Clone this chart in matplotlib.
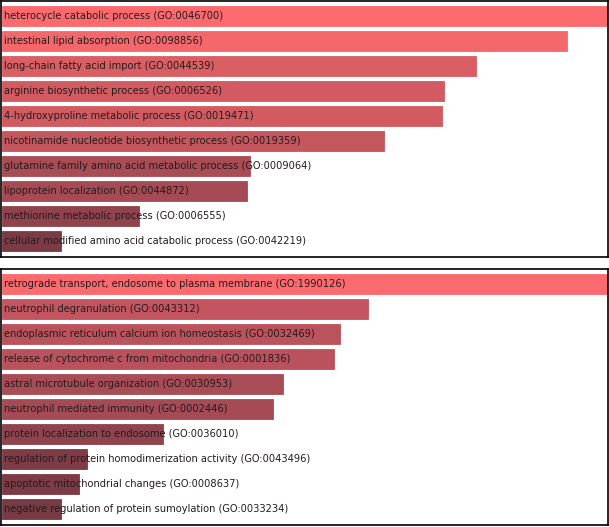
import numpy as np
import matplotlib.pyplot as plt

# top panel
terms_top = ['heterocycle catabolic process (GO:0046700)',
             'intestinal lipid absorption (GO:0098856)',
             'long-chain fatty acid import (GO:0044539)',
             'arginine biosynthetic process (GO:0006526)',
             '4-hydroxyproline metabolic process (GO:0019471)',
             'nicotinamide nucleotide biosynthetic process (GO:0019359)',
             'glutamine family amino acid metabolic process (GO:0009064)',
             'lipoprotein localization (GO:0044872)',
             'methionine metabolic process (GO:0006555)',
             'cellular modified amino acid catabolic process (GO:0042219)']
scores_top = [10.12, 9.43, 7.91, 7.38, 7.34, 6.37, 4.14, 4.09, 2.29, 0.98]
colors_top = ['#FB6A6E', '#F4686C', '#DA5F64', '#D25B61', '#D25B61',
              '#C4565D', '#A84C55', '#A64B55', '#8E434D', '#7A3B46']

# bottom panel
terms_bot = ['retrograde transport, endosome to plasma membrane (GO:1990126)',
             'neutrophil degranulation (GO:0043312)',
             'endoplasmic reticulum calcium ion homeostasis (GO:0032469)',
             'release of cytochrome c from mitochondria (GO:0001836)',
             'astral microtubule organization (GO:0030953)',
             'neutrophil mediated immunity (GO:0002446)',
             'protein localization to endosome (GO:0036010)',
             'regulation of protein homodimerization activity (GO:0043496)',
             'apoptotic mitochondrial changes (GO:0008637)',
             'negative regulation of protein sumoylation (GO:0033234)']
scores_bot = [10.12, 6.11, 5.64, 5.54, 4.69, 4.52, 2.68, 1.42, 1.29, 0.99]
colors_bot = ['#FB6A6E', '#C35560', '#BA535C', '#B9525C', '#A84C55',
              '#A54B55', '#8E434D', '#7E3C47', '#7C3B46', '#783A45']

W, H = 609, 527
fig = plt.figure(figsize=(W / 100, H / 100), dpi=100)

def panel(rect, terms, scores, colors):
    ax = fig.add_axes(rect)
    y = np.arange(len(terms))
    ax.barh(y, scores, height=0.8, color=colors, edgecolor=colors,
            linewidth=0.6, left=0.0)
    for yi, t in zip(y, terms):
        ax.annotate(t, xy=(0, yi), xytext=(1.5, 0), textcoords='offset points',
                    va='center', ha='left', fontsize=7.1, color='#241c1c',
                    family='DejaVu Sans')
    ax.set_xlim(-0.02, max(scores))
    ax.set_ylim(9.64, -0.62)
    ax.set_xticks([])
    ax.set_yticks([])
    for s in ax.spines.values():
        s.set_linewidth(1.2)
        s.set_color('black')
    return ax

panel([1 / W, (H - 257) / H, 607 / W, 256 / H], terms_top, scores_top, colors_top)
panel([1 / W, (H - 525) / H, 607 / W, 256 / H], terms_bot, scores_bot, colors_bot)

fig.savefig('out.png', dpi=100)
